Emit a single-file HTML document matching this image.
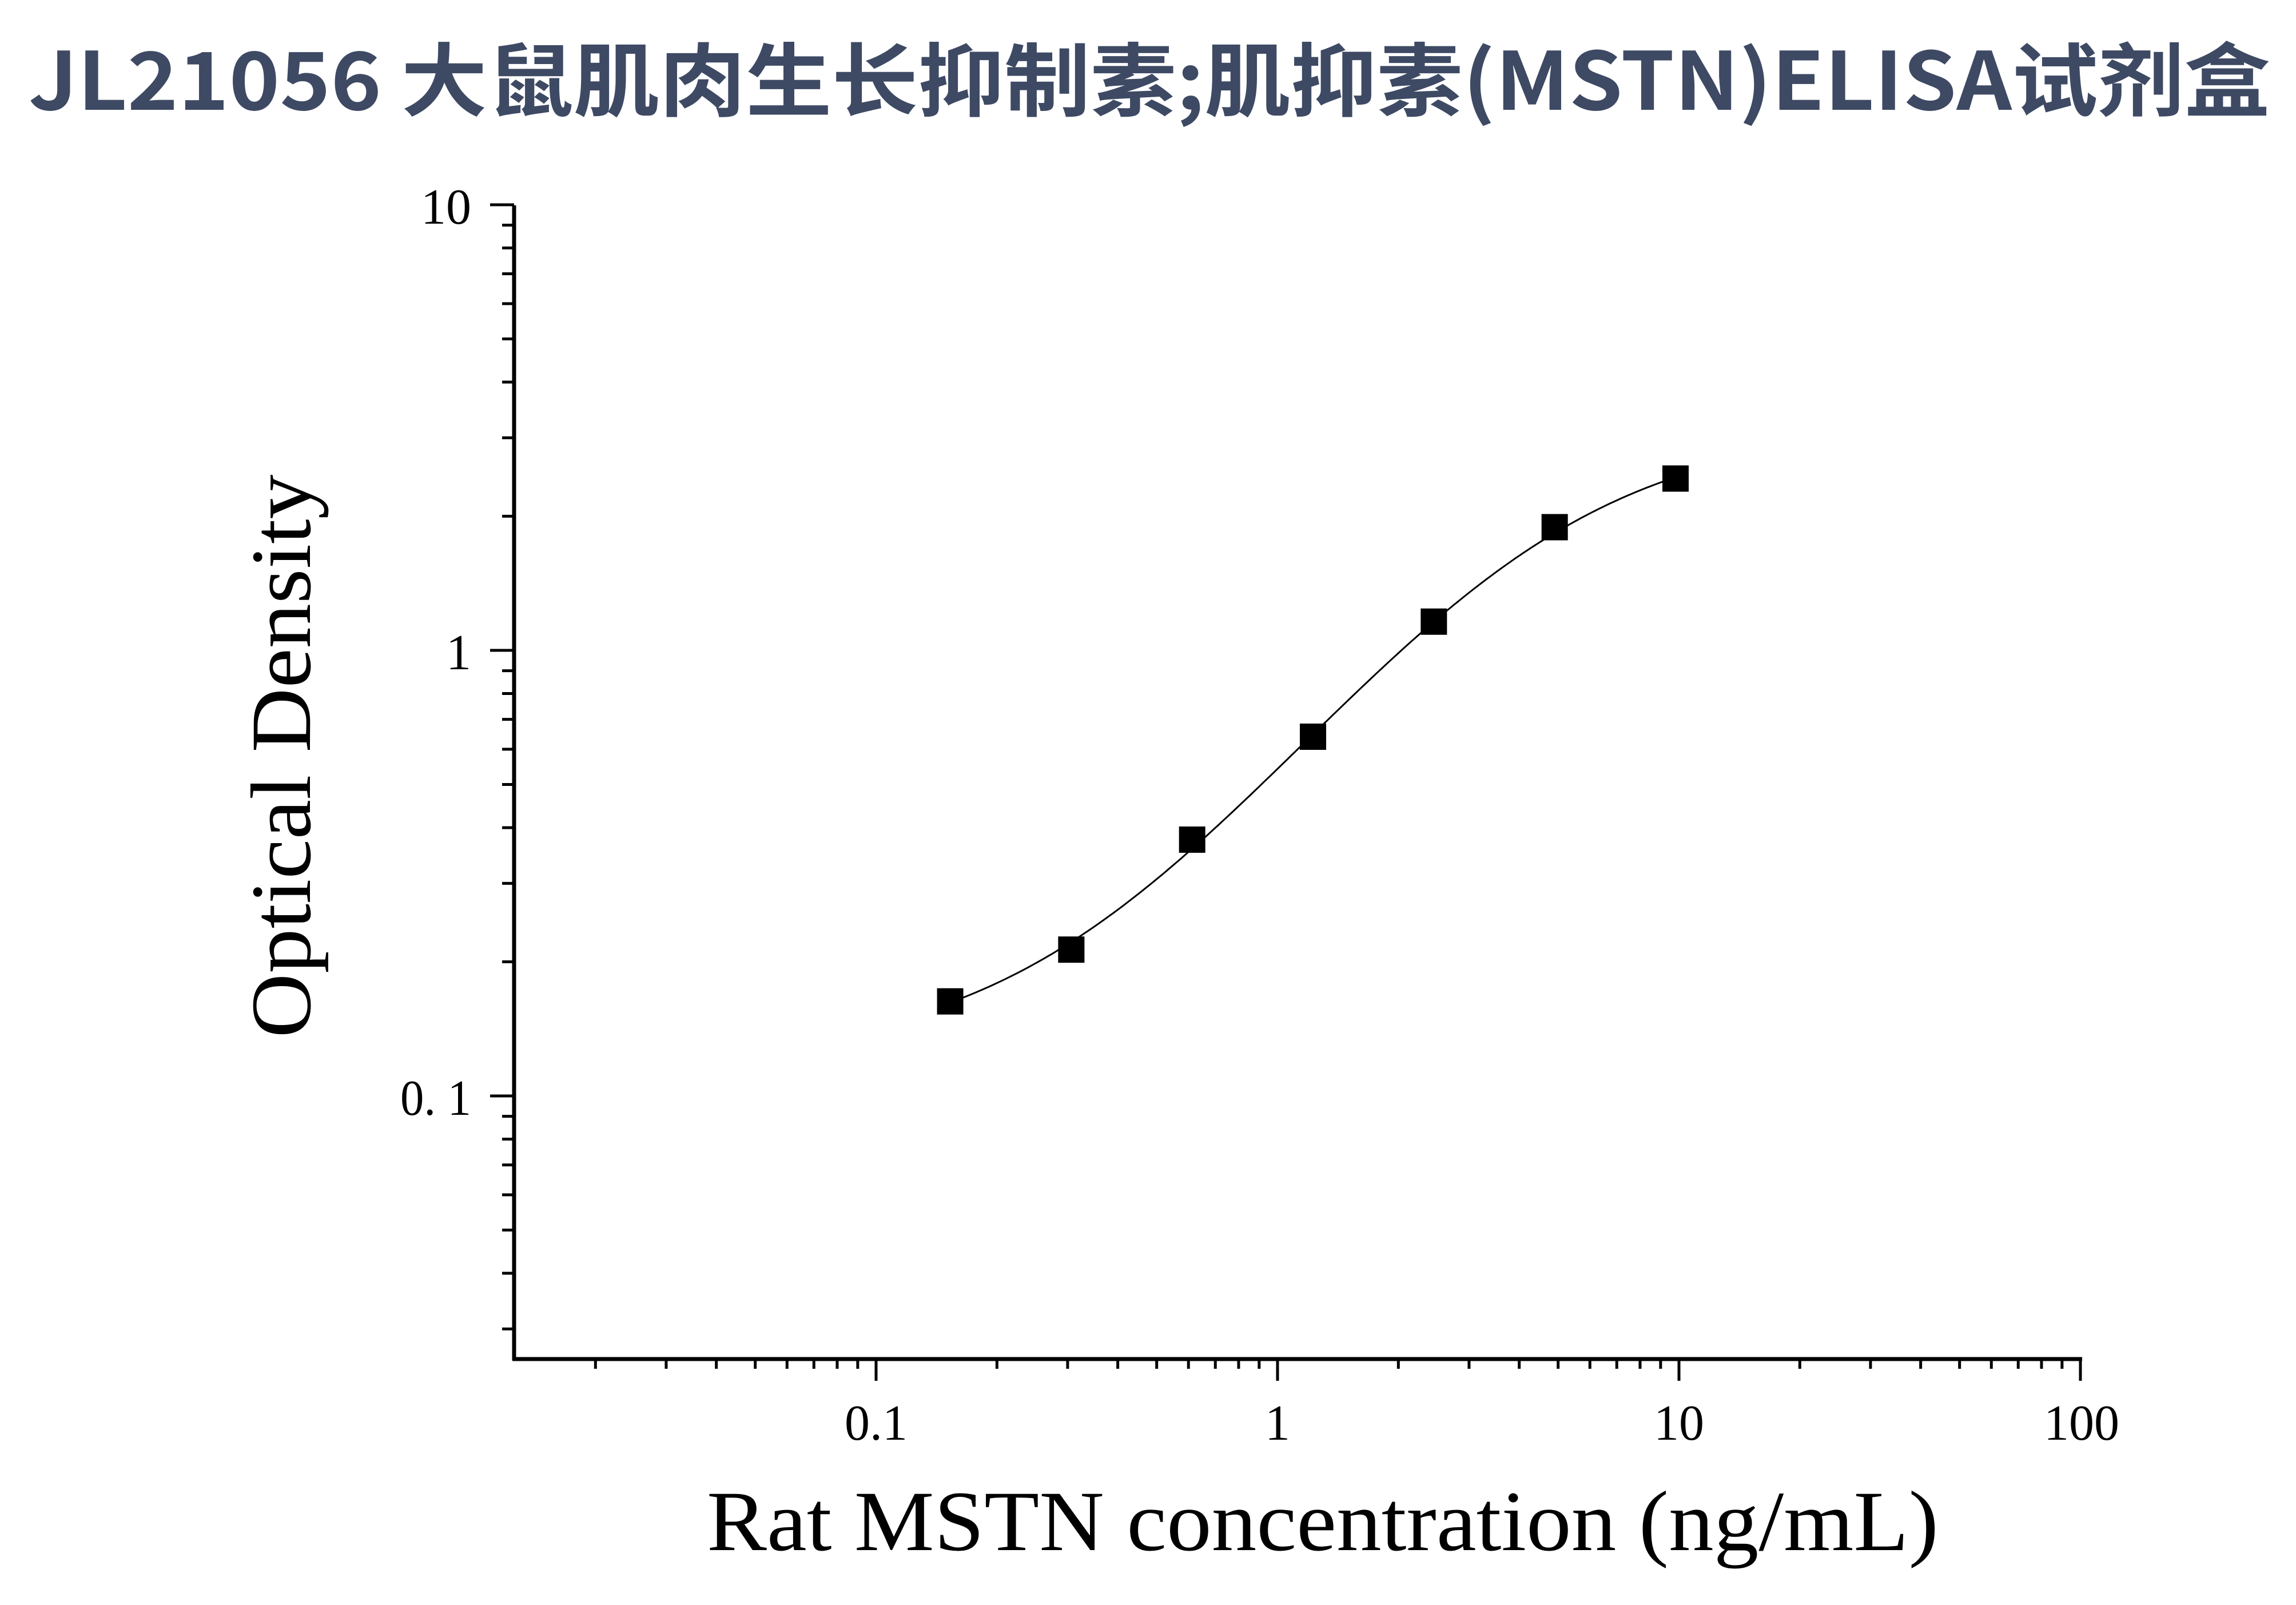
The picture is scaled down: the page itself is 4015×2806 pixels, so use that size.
<!DOCTYPE html>
<html><head><meta charset="utf-8"><style>
html,body{margin:0;padding:0;background:#fff}
svg{display:block}
</style></head><body>
<svg id="s" width="4015" height="2806" viewBox="0 0 4015 2806" xmlns="http://www.w3.org/2000/svg">
<rect width="4015" height="2806" fill="#fff"/>
<text x="2010" y="192" text-anchor="middle" font-family="'Noto Sans CJK SC','Liberation Sans',sans-serif" font-weight="bold" font-size="140" fill="#3e4a64" textLength="3920" lengthAdjust="spacingAndGlyphs">JL21056 大鼠肌肉生长抑制素;肌抑素(MSTN)ELISA试剂盒</text>
<g id="ax" stroke="#000" fill="none"></g>
<g font-family="'Liberation Serif',serif" font-size="88" fill="#000">
<text x="824" y="391" text-anchor="end">10</text>
<text x="824" y="1170" text-anchor="end">1</text>
<text x="700" y="1949" textLength="124" lengthAdjust="spacingAndGlyphs">0. 1</text>
<text x="1532" y="2517" text-anchor="middle">0.1</text>
<text x="2234" y="2517" text-anchor="middle">1</text>
<text x="2936" y="2517" text-anchor="middle">10</text>
<text x="3640" y="2517" text-anchor="middle">100</text>
</g>
<text x="2313" y="2710" text-anchor="middle" font-family="'Liberation Serif',serif" font-size="150" textLength="2154" lengthAdjust="spacingAndGlyphs">Rat MSTN concentration (ng/mL)</text>
<text transform="translate(542,1322) rotate(-90)" text-anchor="middle" font-family="'Liberation Serif',serif" font-size="150" textLength="985" lengthAdjust="spacingAndGlyphs">Optical Density</text>
<path id="curve" stroke="#000" stroke-width="3" fill="none" d=""/>
<g id="pts" fill="#000"></g>
</svg>
<script>
var X0=1532,DX=702,Y1=1137,DY=779;
function px(v){return X0+Math.log10(v/0.1)*DX}
function py(v){return Y1-Math.log10(v)*DY}
var ax=document.getElementById('ax'),h='';
h+='<line x1="899" y1="359" x2="899" y2="2378" stroke-width="7"/>';
h+='<line x1="896" y1="2376" x2="3641" y2="2376" stroke-width="7"/>';
[10,1,0.1].forEach(function(v){var y=py(v);h+='<line x1="857" y1="'+y+'" x2="899" y2="'+y+'" stroke-width="5"/>';});
[[0.1,10],[1,10],[0.01,10]].forEach(function(d){for(var k=2;k<=9;k++){var v=d[0]*k;var y=py(v);if(y>2370||y<360)continue;h+='<line x1="878" y1="'+y+'" x2="899" y2="'+y+'" stroke-width="5"/>';}});
[0.1,1,10,100].forEach(function(v){var x=px(v);h+='<line x1="'+x+'" y1="2376" x2="'+x+'" y2="2414" stroke-width="5"/>';});
[0.01,0.1,1,10].forEach(function(b){for(var k=2;k<=9;k++){var x=px(b*k);if(x<905)continue;h+='<line x1="'+x+'" y1="2376" x2="'+x+'" y2="2393" stroke-width="5"/>';}});
ax.innerHTML=h;
var c=[0.156,0.3125,0.625,1.25,2.5,5,10],od=[0.163,0.213,0.376,0.640,1.16,1.89,2.43];
var P=c.map(function(v,i){return [px(v)-6,py(od[i])]});
var g='';P.forEach(function(p){g+='<rect x="'+(p[0]-23)+'" y="'+(p[1]-23)+'" width="46" height="46"/>';});
document.getElementById('pts').innerHTML=g;
function f(x,A,D,C,B){return D+(A-D)/(1+Math.pow(x/C,B));}
var best=1e9,bp=null;
for(var A=0.05;A<=0.2;A+=0.005)for(var D=2.4;D<=5;D+=0.1)for(var C=1;C<=8;C+=0.2)for(var B=0.8;B<=2.6;B+=0.05){
var e=0;for(var i=0;i<7;i++){var v=f(c[i],A,D,C,B);if(v<=0){e=1e9;break;}var r=Math.log(v)-Math.log(od[i]);e+=r*r;}
if(e<best){best=e;bp=[A,D,C,B];}}
var d='';
for(var k=0;k<=200;k++){var lx=Math.log10(c[0])+k/200*(Math.log10(c[6])-Math.log10(c[0]));var x=Math.pow(10,lx);
d+=(k?' L':'M')+(px(x)-6).toFixed(1)+','+py(f(x,bp[0],bp[1],bp[2],bp[3])).toFixed(1);}
document.getElementById('curve').setAttribute('d',d);
</script>
</body></html>
